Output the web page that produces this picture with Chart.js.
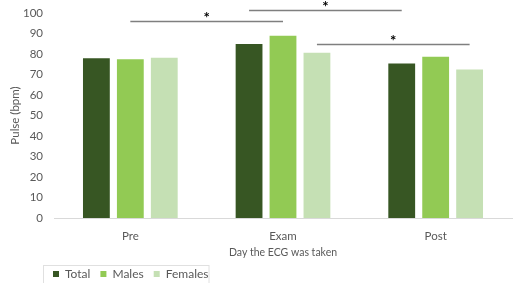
<!DOCTYPE html>
<html>
<head>
<meta charset="utf-8">
<script src="https://cdn.jsdelivr.net/npm/chart.js@4"></script>
<style>
  html, body { margin: 0; padding: 0; background: #fff; }
  #wrap { width: 517px; height: 283px; }
</style>
</head>
<body>
<div id="wrap"><canvas id="pulseChart" width="517" height="283"></canvas></div>
<script>
const days = ['Pre', 'Exam', 'Post'];
const seriesNames = ['Total', 'Males', 'Females'];
const totalPulse = [77.9, 84.9, 75.4];
const malesPulse = [77.4, 88.9, 78.7];
const femalesPulse = [78.2, 80.6, 72.5];
const yTicks = [0, 10, 20, 30, 40, 50, 60, 70, 80, 90, 100];

// significance brackets: which series, from day, to day, height (bpm)
const sigSeries = [1, 0, 2];
const sigFrom = [0, 1, 1];
const sigTo = [1, 2, 2];
const sigLevel = [96.1, 101.3, 84.9];

const colors = ['#375623', '#92CA54', '#C5E0B4'];
const textColor = '#595959';
const font = { family: 'Lato', size: 11.5 };
const legendShift = 43;

const legendTweak = {
  id: 'legendTweak',
  afterLayout(chart) {
    const l = chart.legend;
    l.left += legendShift;
    l.right += legendShift;
    l.top = 274 - 6 - l.options.labels.padding;
  },
  afterDraw(chart) {
    const l = chart.legend;
    const pad = l.options.labels.padding;
    const start = l.left + pad;
    let w = 0;
    l.legendHitBoxes.forEach(h => { w += h.width + pad; });
    const ctx = chart.ctx;
    ctx.save();
    ctx.strokeStyle = '#e0e0e0';
    ctx.lineWidth = 1;
    ctx.strokeRect(start - 10 + 0.5, 265.5, w, 20);
    ctx.restore();
  }
};

const sigLines = {
  id: 'sigLines',
  afterDatasetsDraw(chart) {
    const ctx = chart.ctx;
    const y = chart.scales.y;
    ctx.save();
    sigSeries.forEach((s, i) => {
      const meta = chart.getDatasetMeta(s);
      const x1 = meta.data[sigFrom[i]].x;
      const x2 = meta.data[sigTo[i]].x;
      const py = Math.round(y.getPixelForValue(sigLevel[i])) + 0.5;
      ctx.strokeStyle = '#7f7f7f';
      ctx.lineWidth = 1.5;
      ctx.beginPath();
      ctx.moveTo(x1, py);
      ctx.lineTo(x2, py);
      ctx.stroke();
      ctx.fillStyle = '#000';
      ctx.font = 'bold 15px Lato';
      ctx.textAlign = 'center';
      ctx.textBaseline = 'middle';
      ctx.fillText('*', (x1 + x2) / 2, py - 3);
    });
    ctx.restore();
  }
};

new Chart(document.getElementById('pulseChart'), {
  type: 'bar',
  data: {
    labels: days,
    datasets: [
      { label: seriesNames[0], data: totalPulse, backgroundColor: colors[0] },
      { label: seriesNames[1], data: malesPulse, backgroundColor: colors[1] },
      { label: seriesNames[2], data: femalesPulse, backgroundColor: colors[2] }
    ]
  },
  options: {
    responsive: false,
    animation: false,
    devicePixelRatio: 1,
    layout: { padding: { top: 13, right: 5, left: 0, bottom: 0 } },
    datasets: {
      bar: { categoryPercentage: 0.667, barPercentage: 0.79 }
    },
    plugins: {
      tooltip: { enabled: false },
      legend: {
        position: 'bottom',
        align: 'start',
        maxHeight: 18,
        labels: {
          boxWidth: 6,
          boxHeight: 6,
          padding: 10,
          color: textColor,
          font: { family: 'Lato', size: 12 }
        }
      }
    },
    scales: {
      x: {
        grid: { display: false, drawTicks: false },
        border: { display: true, color: '#d9d9d9', width: 1 },
        ticks: { color: textColor, font: font, padding: 11 },
        title: {
          display: true,
          text: 'Day the ECG was taken',
          color: textColor,
          font: { family: 'Lato', size: 10.5 },
          padding: { top: 0, bottom: 6 }
        },
        afterFit(scale) { scale.height = 47; }
      },
      y: {
        min: 0,
        max: 100,
        afterBuildTicks(scale) { scale.ticks = yTicks.map(v => ({ value: v })); },
        grid: { display: false, drawTicks: false },
        border: { display: false },
        ticks: { color: textColor, font: font, padding: 11 },
        title: {
          display: true,
          text: 'Pulse (bpm)',
          color: textColor,
          font: font,
          padding: { top: 8, bottom: 0 }
        },
        afterFit(scale) {
          scale.width = 54;
          scale.paddingTop = 0;
          scale.paddingBottom = 0;
        }
      }
    }
  },
  plugins: [sigLines, legendTweak]
});
</script>
</body>
</html>
